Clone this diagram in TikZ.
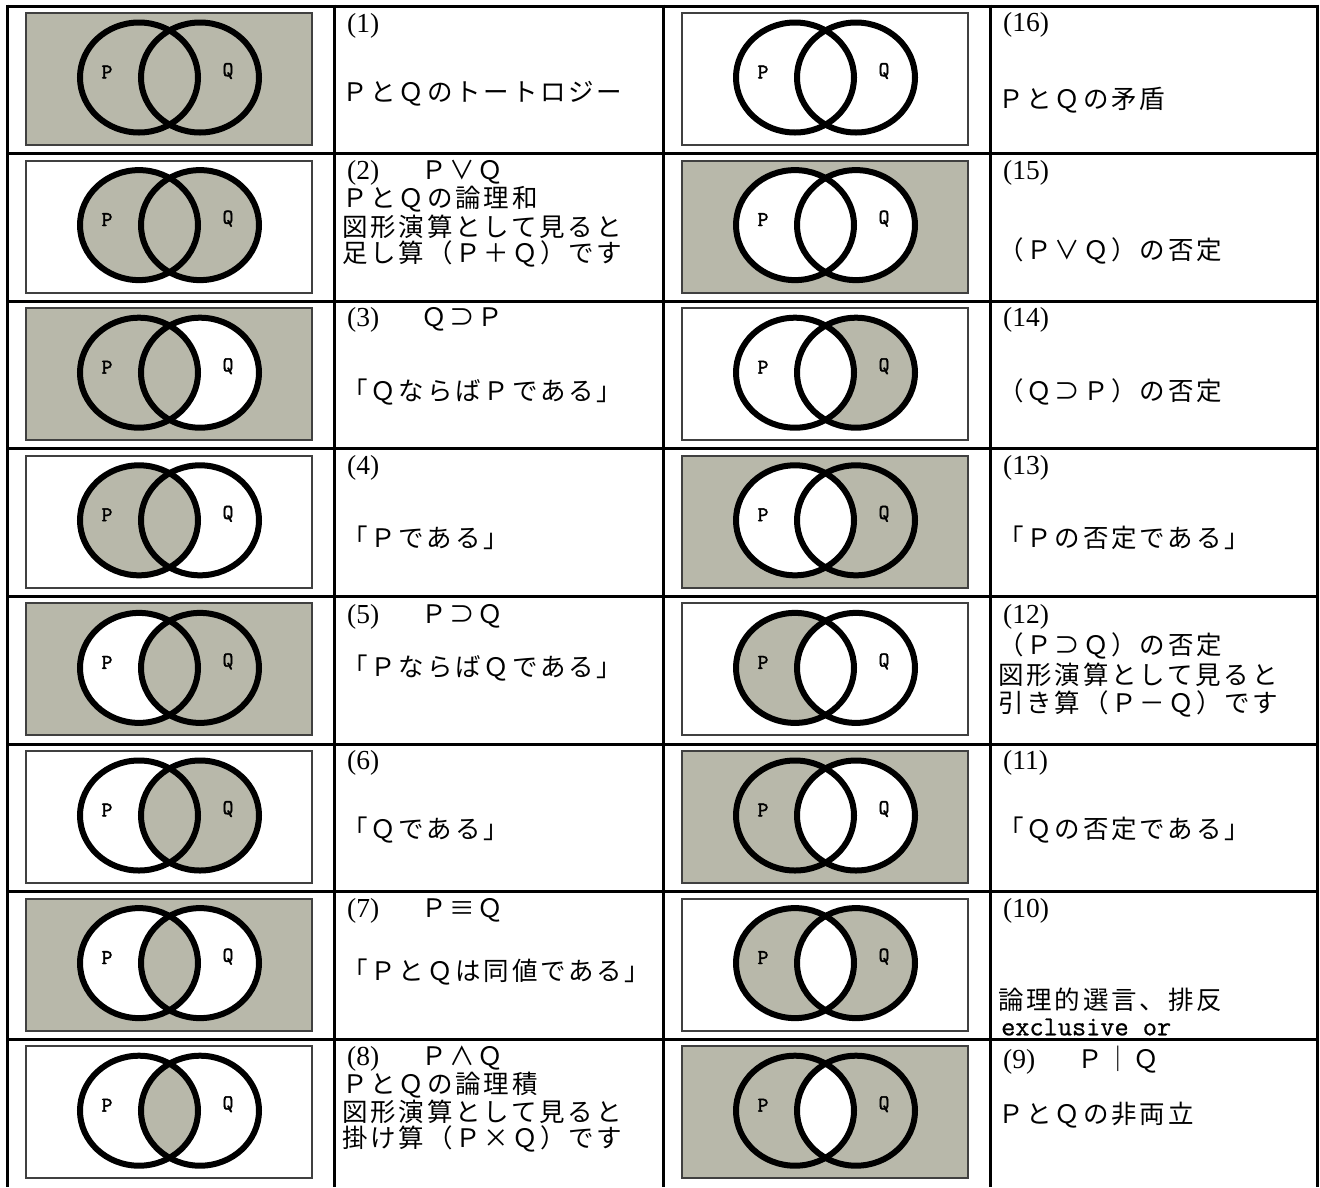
\documentclass[tikz,border=0pt]{standalone}
\usepackage{fontspec}
\setmainfont{Liberation Serif}
\newfontfamily\cjk[LetterSpace=11]{Noto Sans CJK JP}
\newfontfamily\plfont[FakeBold=2]{Latin Modern Mono}
\newfontfamily\exfont[FakeBold=0.8]{Latin Modern Mono}
\definecolor{gr}{RGB}{184,184,170}
\tikzset{
 vbox/.style={draw=black!75, line width=2pt, minimum width=286pt, minimum height=132pt, inner sep=0pt},
 vline/.style={line width=6pt},
 plbl/.style={font=\plfont\fontsize{21}{21}\selectfont, inner sep=0pt},
 txt/.style={anchor=west, inner sep=0pt, font=\cjk\fontsize{25.5}{25.5}\selectfont},
 mtxt/.style={anchor=west, inner sep=0pt, font=\exfont\fontsize{27.5}{27.5}\selectfont},
 grid/.style={line width=3pt}
}
\newcommand\nlbl[1]{{\rmfamily\fontsize{27.5}{27.5}\selectfont\hspace*{5pt}#1}}
\newcommand\venn[7]{%
 \begin{scope}[shift={(#2,#3)}]
  \node[vbox, fill=#4] (#1box) at (162,73) {};
  \fill[#5] (132,71.5) ellipse [x radius=59pt, y radius=55pt];
  \fill[#7] (193,71.5) ellipse [x radius=59pt, y radius=55pt];
  \begin{scope}
   \clip (132,71.5) ellipse [x radius=59pt, y radius=55pt];
   \fill[#6] (193,71.5) ellipse [x radius=59pt, y radius=55pt];
  \end{scope}
  \draw[vline] (132,71.5) ellipse [x radius=59pt, y radius=55pt];
  \draw[vline] (193,71.5) ellipse [x radius=59pt, y radius=55pt];
  \node[plbl] (#1p) at (100,66) {P};
  \node[plbl] (#1q) at (221,65) {Q};
 \end{scope}}
\begin{document}
\begin{tikzpicture}[x=1pt,y=-1pt]
\useasboundingbox (0,0) rectangle (1320,1187);
\fill[white] (0,0) rectangle (1320,1187);
% Venn diagrams
\venn{v1}{7}{6}{gr}{gr}{gr}{gr}
\venn{v2}{7}{153.6}{white}{gr}{gr}{gr}
\venn{v3}{7}{301.2}{gr}{gr}{gr}{white}
\venn{v4}{7}{448.8}{white}{gr}{gr}{white}
\venn{v5}{7}{596.4}{gr}{white}{gr}{gr}
\venn{v6}{7}{744}{white}{white}{gr}{gr}
\venn{v7}{7}{891.6}{gr}{white}{gr}{white}
\venn{v8}{7}{1039.2}{white}{white}{gr}{white}
\venn{v16}{663}{6}{white}{white}{white}{white}
\venn{v15}{663}{153.6}{gr}{white}{white}{white}
\venn{v14}{663}{301.2}{white}{white}{white}{gr}
\venn{v13}{663}{448.8}{gr}{white}{white}{gr}
\venn{v12}{663}{596.4}{white}{gr}{white}{white}
\venn{v11}{663}{744}{gr}{gr}{white}{white}
\venn{v10}{663}{891.6}{white}{gr}{white}{gr}
\venn{v9}{663}{1039.2}{gr}{gr}{white}{gr}
% grid
\draw[grid] (7,6) -- (1317,6);
\foreach \yy in {153.6,301.2,448.8,596.4,744,891.6,1039.2} \draw[grid] (7,\yy) -- (1317,\yy);
\foreach \xx in {7,334,663,990,1317} \draw[grid] (\xx,4.5) -- (\xx,1187);
% column 2 texts
\node[txt] (n1) at (342,26) {\nlbl{(1)}};
\node[txt] (m1) at (342,94) {ＰとＱのトートロジー};
\node[txt] (n2) at (342,172.6) {\makebox[79pt][l]{\nlbl{(2)}}Ｐ∨Ｑ};
\node[txt] (m2a) at (342,199.6) {ＰとＱの論理和};
\node[txt] (m2b) at (342,226.6) {図形演算として見ると};
\node[txt] (m2c) at (342,253.6) {足し算（Ｐ＋Ｑ）です};
\node[txt] (n3) at (342,320.2) {\makebox[79pt][l]{\nlbl{(3)}}Ｑ⊃Ｐ};
\node[txt] (m3) at (342,392) {「ＱならばＰである」};
\node[txt] (n4) at (342,467.8) {\nlbl{(4)}};
\node[txt] (m4) at (342,538) {「Ｐである」};
\node[txt] (n5) at (342,617) {\makebox[79pt][l]{\nlbl{(5)}}Ｐ⊃Ｑ};
\node[txt] (m5) at (342,668) {「ＰならばＱである」};
\node[txt] (n6) at (342,763) {\nlbl{(6)}};
\node[txt] (m6) at (342,830) {「Ｑである」};
\node[txt] (n7) at (342,910.6) {\makebox[79pt][l]{\nlbl{(7)}}Ｐ≡Ｑ};
\node[txt] (m7) at (342,972) {「ＰとＱは同値である」};
\node[txt] (n8) at (342,1059) {\makebox[79pt][l]{\nlbl{(8)}}Ｐ∧Ｑ};
\node[txt] (m8a) at (342,1085.5) {ＰとＱの論理積};
\node[txt] (m8b) at (342,1112) {図形演算として見ると};
\node[txt] (m8c) at (342,1138.5) {掛け算（Ｐ×Ｑ）です};
% column 4 texts
\node[txt] (n16) at (998,25) {\nlbl{(16)}};
\node[txt] (m16) at (998,100) {ＰとＱの矛盾};
\node[txt] (n15) at (998,172.6) {\nlbl{(15)}};
\node[txt] (m15) at (998,251) {（Ｐ∨Ｑ）の否定};
\node[txt] (n14) at (998,320.2) {\nlbl{(14)}};
\node[txt] (m14) at (998,392) {（Ｑ⊃Ｐ）の否定};
\node[txt] (n13) at (998,467.8) {\nlbl{(13)}};
\node[txt] (m13) at (998,538) {「Ｐの否定である」};
\node[txt] (n12) at (998,617) {\nlbl{(12)}};
\node[txt] (m12a) at (998,646) {（Ｐ⊃Ｑ）の否定};
\node[txt] (m12b) at (998,675) {図形演算として見ると};
\node[txt] (m12c) at (998,704) {引き算（Ｐ－Ｑ）です};
\node[txt] (n11) at (998,763) {\nlbl{(11)}};
\node[txt] (m11) at (998,830) {「Ｑの否定である」};
\node[txt] (n10) at (998,910.6) {\nlbl{(10)}};
\node[txt] (m10) at (998,1000) {論理的選言、排反};
\node[mtxt] (m10b) at (1001,1027) {exclusive or};
\node[txt] (n9) at (998,1060) {\makebox[79pt][l]{\nlbl{(9)}}Ｐ｜Ｑ};
\node[txt] (m9) at (998,1115) {ＰとＱの非両立};
\end{tikzpicture}
\end{document}
